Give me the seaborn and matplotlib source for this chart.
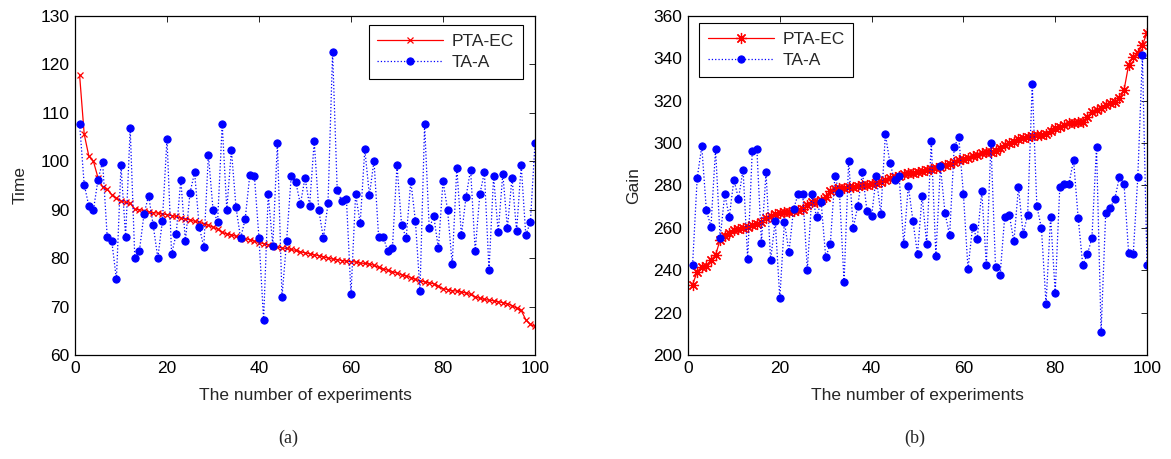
import numpy as np
import pandas as pd
import matplotlib
matplotlib.use("Agg")
import matplotlib.pyplot as plt
import seaborn as sns

experiments = list(range(1, 101))

time_pta_ec = [117.8, 105.6, 101.1, 100.0, 96.6, 94.7, 94.2, 93.1, 92.4, 91.8,
               91.5, 91.3, 90.1, 90.0, 89.8, 89.6, 89.4, 89.3, 89.1, 89.0,
               88.8, 88.6, 88.3, 88.1, 87.9, 87.6, 87.4, 87.1, 86.8, 86.4,
               86.0, 85.3, 85.0, 84.8, 84.5, 84.2, 84.0, 83.8, 83.5, 83.2,
               83.0, 82.8, 82.5, 82.3, 82.1, 82.0, 81.8, 81.6, 81.3, 81.1,
               80.9, 80.7, 80.5, 80.3, 80.0, 79.8, 79.7, 79.5, 79.4, 79.3,
               79.2, 79.0, 78.9, 78.8, 78.5, 78.1, 77.8, 77.5, 77.2, 76.9,
               76.6, 76.3, 76.0, 75.6, 75.3, 75.1, 74.9, 74.7, 74.2, 73.7,
               73.5, 73.3, 73.2, 73.0, 72.8, 72.5, 72.0, 71.7, 71.5, 71.3,
               71.2, 71.0, 70.8, 70.6, 70.2, 69.7, 69.2, 67.3, 66.3, 65.9]

time_ta_a = [107.7, 95.2, 90.8, 89.9, 96.2, 99.9, 84.4, 83.5, 75.6, 99.2,
             84.4, 106.8, 80.0, 81.5, 89.1, 92.9, 86.8, 80.0, 87.7, 104.7,
             80.8, 85.0, 96.2, 83.5, 93.5, 97.7, 86.5, 82.3, 101.4, 90.0,
             87.5, 107.7, 90.0, 102.3, 90.5, 84.1, 88.1, 97.2, 96.9, 84.1,
             67.2, 93.2, 82.6, 103.8, 72.0, 83.5, 96.9, 95.7, 91.1, 96.6,
             90.8, 104.1, 89.9, 84.1, 91.3, 122.6, 94.1, 91.7, 92.3, 72.6,
             93.2, 87.2, 102.5, 93.0, 100.1, 84.4, 84.4, 81.4, 82.0, 99.2,
             86.8, 84.2, 95.9, 87.7, 73.2, 107.7, 86.2, 88.6, 82.0, 95.9,
             89.9, 78.7, 98.7, 84.7, 92.6, 98.3, 81.4, 93.2, 97.7, 77.5,
             96.9, 85.3, 97.4, 86.2, 96.6, 85.6, 99.2, 84.7, 87.5, 103.8]

gain_pta_ec = [233.2, 239.3, 241.7, 242.0, 244.8, 247.2, 254.3, 256.3, 257.7, 258.8,
               259.3, 259.8, 260.3, 261.3, 262.0, 262.8, 264.5, 265.5, 266.5, 267.0,
               267.3, 267.6, 268.0, 268.4, 268.7, 271.0, 272.0, 272.4, 273.0, 274.5,
               277.5, 278.2, 278.6, 279.0, 279.3, 279.5, 279.8, 280.0, 280.2, 280.6,
               281.2, 281.8, 282.6, 283.4, 284.0, 284.6, 285.2, 285.7, 286.1, 286.5,
               286.9, 287.2, 287.6, 288.2, 288.8, 289.5, 290.3, 291.2, 292.0, 292.6,
               293.2, 293.8, 294.6, 295.2, 295.6, 296.0, 296.3, 297.5, 299.0, 300.0,
               300.7, 302.0, 302.6, 303.0, 303.4, 303.6, 303.8, 304.5, 305.8, 307.0,
               307.8, 308.6, 309.3, 309.6, 309.9, 310.2, 312.5, 314.8, 315.6, 316.4,
               318.0, 318.8, 319.6, 321.1, 325.1, 336.9, 340.8, 342.4, 346.3, 352.1]

gain_ta_a = [242.6, 283.5, 298.5, 268.3, 260.6, 297.2, 255.0, 275.8, 265.3, 282.7,
             273.8, 287.5, 245.3, 296.4, 297.2, 253.0, 286.2, 244.8, 263.4, 226.7,
             262.8, 248.5, 268.9, 276.0, 276.0, 240.1, 276.0, 265.0, 272.4, 246.2,
             252.2, 284.3, 276.6, 234.4, 291.7, 259.9, 270.5, 286.2, 267.8, 265.4,
             284.3, 266.5, 304.3, 290.5, 282.7, 284.3, 252.2, 279.9, 263.4, 247.5,
             275.2, 252.4, 300.8, 246.9, 289.0, 266.9, 256.5, 298.2, 302.9, 276.0,
             240.6, 260.6, 254.6, 277.2, 242.6, 300.1, 241.4, 237.8, 265.3, 266.1,
             253.6, 279.3, 257.1, 266.2, 327.9, 270.3, 259.8, 224.1, 265.3, 229.4,
             279.3, 280.9, 280.9, 291.9, 264.8, 242.6, 247.5, 255.2, 298.2, 211.0,
             267.0, 269.5, 273.8, 284.2, 280.7, 248.1, 247.5, 284.2, 341.6, 242.5]

series_names = ["PTA-EC", "TA-A"]
x_ticks = [0, 20, 40, 60, 80, 100]
time_ticks = [60, 70, 80, 90, 100, 110, 120, 130]
gain_ticks = [200, 220, 240, 260, 280, 300, 320, 340, 360]

sns.set_style("white")
plt.rcParams["font.family"] = ["Liberation Sans", "DejaVu Sans"]

fig = plt.figure(figsize=(11.71, 4.59), dpi=100)
ax1 = fig.add_axes([75 / 1171, 1 - 355 / 459, 460 / 1171, 339 / 459])
ax2 = fig.add_axes([688 / 1171, 1 - 355 / 459, 459 / 1171, 339 / 459])

FS = 12.5

def draw(ax, y_red, y_blue, red_marker, red_ms, ylabel, yticks):
    sns.lineplot(x=experiments, y=y_red, ax=ax, color="#ff0000", linewidth=0.9,
                 marker=red_marker, markersize=red_ms, markeredgecolor="#ff0000",
                 markerfacecolor="#ff0000", markeredgewidth=0.9, label=series_names[0])
    sns.lineplot(x=experiments, y=y_blue, ax=ax, color="#0000ff", linewidth=0.9,
                 linestyle=":", marker="o", markersize=5.2, markeredgecolor="#0000ff",
                 markerfacecolor="#0000ff", label=series_names[1])
    ax.set_xlim(0, 100)
    ax.set_ylim(yticks[0], yticks[-1])
    ax.set_xticks(x_ticks)
    ax.set_yticks(yticks)
    ax.tick_params(direction="in", length=4, width=0.6, top=True, right=True,
                   labelsize=FS, colors="black", pad=4)
    for s in ax.spines.values():
        s.set_color("black")
        s.set_linewidth(0.9)
    ax.set_xlabel("The number of experiments", fontsize=FS, labelpad=9)
    ax.set_ylabel(ylabel, fontsize=FS, labelpad=9)

draw(ax1, time_pta_ec, time_ta_a, "x", 5, "Time", time_ticks)
draw(ax2, gain_pta_ec, gain_ta_a, (8, 2, 0), 8, "Gain", gain_ticks)

for ax, loc, anchor in [(ax1, "upper right", (0.974, 0.973)),
                        (ax2, "upper left", (0.024, 0.979))]:
    leg = ax.legend(loc=loc, bbox_to_anchor=anchor, borderaxespad=0,
                    fontsize=FS, handlelength=3.8, fancybox=False, framealpha=1,
                    edgecolor="black", borderpad=0.5, labelspacing=0.35,
                    handletextpad=0.5)
    leg.get_frame().set_linewidth(0.8)

fig.text(288 / 1171, 1 - 438 / 459, "(a)", ha="center", va="center",
         fontsize=13, family=["Liberation Serif", "DejaVu Serif"])
fig.text(915 / 1171, 1 - 438 / 459, "(b)", ha="center", va="center",
         fontsize=13, family=["Liberation Serif", "DejaVu Serif"])

fig.savefig("out.png", dpi=100)
